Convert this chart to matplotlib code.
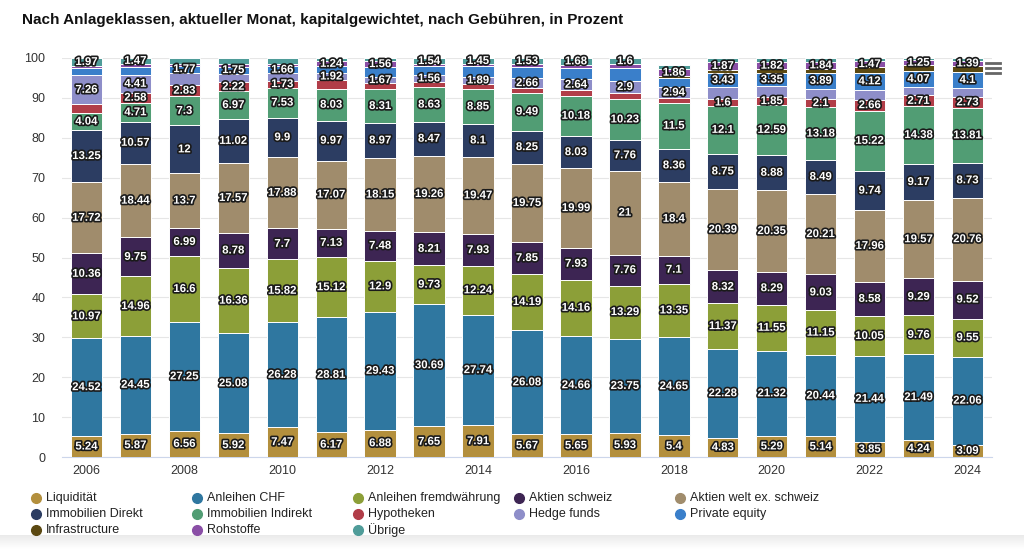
import matplotlib
matplotlib.use("Agg")
import matplotlib.pyplot as plt
import matplotlib.patheffects as pe
from matplotlib.lines import Line2D
from matplotlib.colors import LinearSegmentedColormap
import numpy as np

plt.rcParams['font.family'] = ['Liberation Sans Narrow', 'Liberation Sans', 'DejaVu Sans']

years = list(range(2006, 2025))

# Stack order, bottom to top
liquiditaet   = [5.24, 5.87, 6.56, 5.92, 7.47, 6.17, 6.88, 7.65, 7.91, 5.67, 5.65, 5.93, 5.40, 4.83, 5.29, 5.14, 3.85, 4.24, 3.09]
anleihen_chf  = [24.52, 24.45, 27.25, 25.08, 26.28, 28.81, 29.43, 30.69, 27.74, 26.08, 24.66, 23.75, 24.65, 22.28, 21.32, 20.44, 21.44, 21.49, 22.06]
anleihen_fw   = [10.97, 14.96, 16.6, 16.36, 15.82, 15.12, 12.9, 9.73, 12.24, 14.19, 14.16, 13.29, 13.35, 11.37, 11.55, 11.15, 10.05, 9.76, 9.55]
aktien_ch     = [10.36, 9.75, 6.99, 8.78, 7.7, 7.13, 7.48, 8.21, 7.93, 7.85, 7.93, 7.76, 7.1, 8.32, 8.29, 9.03, 8.58, 9.29, 9.52]
aktien_welt   = [17.72, 18.44, 13.7, 17.57, 17.88, 17.07, 18.15, 19.26, 19.47, 19.75, 19.99, 21.0, 18.4, 20.39, 20.35, 20.21, 17.96, 19.57, 20.76]
immo_direkt   = [13.25, 10.57, 12.0, 11.02, 9.9, 9.97, 8.97, 8.47, 8.1, 8.25, 8.03, 7.76, 8.36, 8.75, 8.88, 8.49, 9.74, 9.17, 8.73]
immo_indirekt = [4.04, 4.71, 7.3, 6.97, 7.53, 8.03, 8.31, 8.63, 8.85, 9.49, 10.18, 10.23, 11.5, 12.1, 12.59, 13.18, 15.22, 14.38, 13.81]
hypotheken    = [2.3, 2.58, 2.83, 2.22, 1.73, 2.1, 1.5, 1.46, 1.2, 1.1, 1.38, 1.58, 1.1, 1.6, 1.85, 2.1, 2.66, 2.71, 2.73]
hedge_funds   = [7.26, 4.41, 3.1, 2.18, 1.93, 1.92, 1.67, 1.56, 1.89, 2.66, 2.64, 2.9, 2.94, 3.1, 2.8, 2.6, 2.6, 2.1, 2.2]
private_eq    = [1.9, 1.9, 1.77, 1.75, 1.66, 1.6, 2.4, 2.3, 2.6, 2.8, 2.9, 3.2, 2.2, 3.43, 3.35, 3.89, 4.12, 4.07, 4.1]
infrastruct   = [0, 0, 0, 0, 0, 0, 0, 0, 0, 0, 0, 0, 0.4, 0.9, 0.9, 1.0, 1.5, 1.4, 1.4]
rohstoffe     = [0.45, 0.9, 0.3, 0.75, 0.6, 1.24, 1.56, 0.5, 0.6, 0.6, 0.8, 1.0, 1.86, 1.87, 1.82, 1.84, 1.47, 1.25, 1.39]
uebrige       = [1.97, 1.47, 1.6, 1.4, 1.5, 0.8, 0.75, 1.54, 1.45, 1.53, 1.68, 1.6, 0.9, 1.06, 1.0, 0.93, 0.81, 0.57, 0.66]

series = [
    ("Liquidität", liquiditaet, "#b38f3d"),
    ("Anleihen CHF", anleihen_chf, "#2f77a0"),
    ("Anleihen fremdwährung", anleihen_fw, "#8c9f38"),
    ("Aktien schweiz", aktien_ch, "#3d2553"),
    ("Aktien welt ex. schweiz", aktien_welt, "#a08c6c"),
    ("Immobilien Direkt", immo_direkt, "#2c3d62"),
    ("Immobilien Indirekt", immo_indirekt, "#519d74"),
    ("Hypotheken", hypotheken, "#b13d48"),
    ("Hedge funds", hedge_funds, "#8e8ec9"),
    ("Private equity", private_eq, "#3a7fca"),
    ("Infrastructure", infrastruct, "#5b4811"),
    ("Rohstoffe", rohstoffe, "#8a4ea6"),
    ("Übrige", uebrige, "#4f9c99"),
]

# segments whose value label is hidden in the source (overlapping labels)
hidden_labels = {
    "Hypotheken": [2006, 2011, 2012, 2013, 2014, 2015, 2016, 2017, 2018],
    "Hedge funds": [2008, 2009, 2010, 2019, 2020, 2021, 2022, 2023, 2024],
    "Private equity": [2006, 2007, 2011, 2012, 2013, 2014, 2015, 2016, 2017, 2018],
    "Infrastructure": years,
    "Rohstoffe": [2006, 2007, 2008, 2009, 2010, 2013, 2014, 2015, 2016, 2017],
    "Übrige": [2008, 2009, 2010, 2011, 2012, 2018, 2019, 2020, 2021, 2022, 2023, 2024],
}

fig = plt.figure(figsize=(10.24, 5.49), dpi=100)
ax = fig.add_axes([62 / 1024, 1 - 457 / 549, 930 / 1024, 399 / 549])

x = np.arange(len(years))
bottom = np.zeros(len(years))
outline = [pe.withStroke(linewidth=2.4, foreground="#1a1a1a")]
for name, vals, color in series:
    vals = np.array(vals, dtype=float)
    ax.bar(x, vals, bottom=bottom, width=0.64, color=color,
           edgecolor="white", linewidth=0.7, zorder=3)
    for i, v in enumerate(vals):
        if v < 1.0 or years[i] in hidden_labels.get(name, []):
            continue
        ax.text(x[i], bottom[i] + v / 2, f"{v:g}", ha="center", va="center",
                color="white", fontsize=8.2, fontweight="bold",
                path_effects=outline, zorder=5)
    bottom += vals

ax.set_xlim(-0.5, len(years) - 0.5)
ax.set_ylim(0, 100)
ax.set_yticks(range(0, 101, 10))
ax.set_xticks(x[::2])
ax.set_xticklabels([str(y) for y in years[::2]])
ax.tick_params(axis="both", length=0, labelsize=9, colors="#333333")
ax.tick_params(axis="y", pad=12)
ax.tick_params(axis="x", pad=6)
ax.grid(axis="y", color="#e6e6e6", linewidth=0.8, zorder=0)
for s in ["top", "right", "left"]:
    ax.spines[s].set_visible(False)
ax.spines["bottom"].set_color("#ccd6eb")

fig.text(22 / 1024, 1 - 20 / 549, "Nach Anlageklassen, aktueller Monat, kapitalgewichtet, nach Gebühren, in Prozent",
         fontsize=11, fontweight="bold", color="#111111", va="center", ha="left")

# legend, row-wise like the source
for i, (name, vals, color) in enumerate(series):
    row, col = divmod(i, 5)
    lx = (36 + col * 161) / 1024
    ly = 1 - (498 + row * 16) / 549
    fig.add_artist(Line2D([lx], [ly], marker="o", markersize=7, color=color,
                          linestyle="none", transform=fig.transFigure))
    fig.text(lx + 10 / 1024, ly, name, fontsize=9, color="#222222", va="center", ha="left")

# context menu icon
for yy in (63, 68, 73):
    fig.add_artist(Line2D([986 / 1024, 1000 / 1024], [1 - yy / 549] * 2, color="#666666",
                          linewidth=2, transform=fig.transFigure))

# faint grey band along the bottom edge
fade = LinearSegmentedColormap.from_list("fade", ["#ffffff", "#e9e9e9"])
gax = fig.add_axes([0, 0, 1, 14 / 549])
gax.imshow(np.linspace(1, 0, 20).reshape(-1, 1), aspect="auto", cmap=fade,
           extent=[0, 1, 0, 1])
gax.axis("off")

fig.savefig("out.png", dpi=100, facecolor="white")
